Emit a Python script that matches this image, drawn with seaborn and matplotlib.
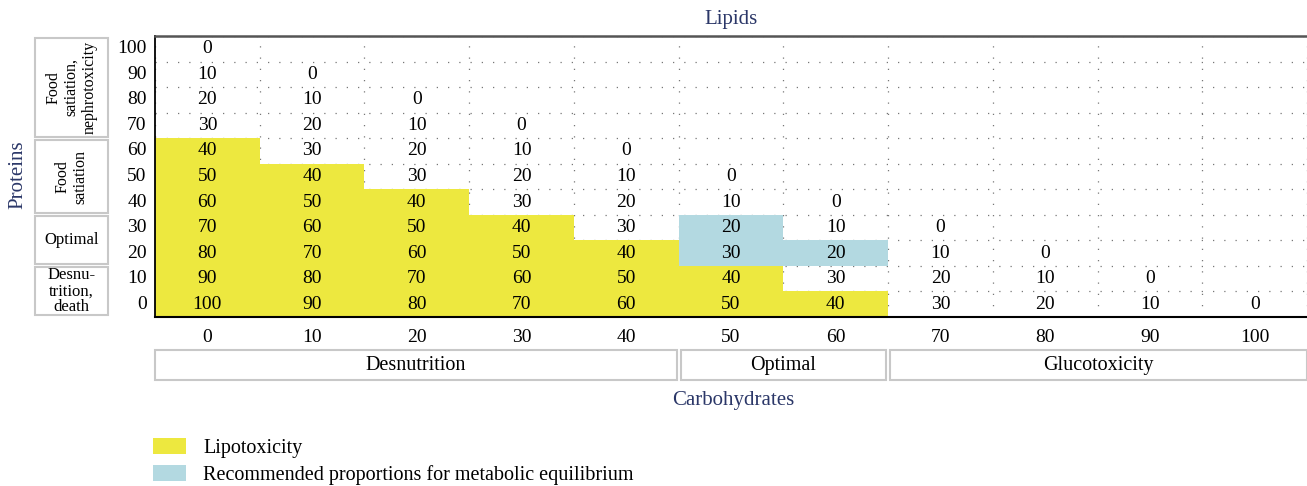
"""Protein / carbohydrate / lipid proportion grid with metabolic zones."""

import matplotlib
matplotlib.use("Agg")
import matplotlib.pyplot as plt
import numpy as np
import pandas as pd
import seaborn as sns
from matplotlib.colors import ListedColormap
from matplotlib.patches import Patch, Rectangle
from matplotlib.transforms import blended_transform_factory

CARBS = [0, 10, 20, 30, 40, 50, 60, 70, 80, 90, 100]
PROTEINS = [100, 90, 80, 70, 60, 50, 40, 30, 20, 10, 0]

# lipid share per protein row (top = 100 % protein), blank where the sum exceeds 100
LIPIDS = [
    [0],
    [10, 0],
    [20, 10, 0],
    [30, 20, 10, 0],
    [40, 30, 20, 10, 0],
    [50, 40, 30, 20, 10, 0],
    [60, 50, 40, 30, 20, 10, 0],
    [70, 60, 50, 40, 30, 20, 10, 0],
    [80, 70, 60, 50, 40, 30, 20, 10, 0],
    [90, 80, 70, 60, 50, 40, 30, 20, 10, 0],
    [100, 90, 80, 70, 60, 50, 40, 30, 20, 10, 0],
]

LIPOTOX_MIN = 40
RECOMMENDED = [(30, 50), (20, 50), (20, 60)]  # (protein, carbohydrate)

PROTEIN_ZONES = [
    ("Food\nsatiation,\nnephrotoxicity", 100, 70, True),
    ("Food\nsatiation", 60, 40, True),
    ("Optimal", 30, 20, False),
    ("Desnu-\ntrition,\ndeath", 10, 0, False),
]
CARB_ZONES = [("Desnutrition", 0, 40), ("Optimal", 50, 60), ("Glucotoxicity", 70, 100)]

LEGEND_LABELS = ["Lipotoxicity", "Recommended proportions for metabolic equilibrium"]

YELLOW = "#ede83f"
BLUE = "#b3d9e1"
NAVY = "#2b3768"
BOX_EDGE = "#c8c8c8"

W, H = 1307, 486
NUM_SIZE = 14

sns.set_theme(style="white")
plt.rcParams["font.family"] = ["Liberation Serif", "DejaVu Serif"]
plt.rcParams["text.color"] = "black"
plt.rcParams["xtick.labelcolor"] = "black"
plt.rcParams["ytick.labelcolor"] = "black"


def build_tables():
    lipids = pd.DataFrame(np.nan, index=PROTEINS, columns=CARBS)
    for protein, row in zip(PROTEINS, LIPIDS):
        for carb, value in zip(CARBS, row):
            lipids.loc[protein, carb] = value
    zones = pd.DataFrame(np.nan, index=PROTEINS, columns=CARBS)
    zones[lipids >= LIPOTOX_MIN] = 0
    for protein, carb in RECOMMENDED:
        zones.loc[protein, carb] = 1
    return lipids, zones


def main():
    lipids, zones = build_tables()

    fig = plt.figure(figsize=(W / 100, H / 100), dpi=100)
    ax = fig.add_axes([155 / W, 1 - 317 / H, 1152 / W, 281 / H])

    sns.heatmap(zones, mask=zones.isna(), cmap=ListedColormap([YELLOW, BLUE]),
                vmin=0, vmax=1, cbar=False, ax=ax)
    sns.heatmap(lipids, mask=lipids.isna(), cmap=ListedColormap([(0, 0, 0, 0)]),
                annot=True, fmt=".0f", cbar=False, ax=ax,
                annot_kws={"fontsize": NUM_SIZE, "color": "black"})

    # dotted cell grid underneath the coloured cells
    ax.set_xticks(np.arange(len(CARBS) + 1), minor=True)
    ax.set_yticks(np.arange(len(PROTEINS) + 1), minor=True)
    ax.set_axisbelow(True)
    ax.grid(which="minor", color="#777777", linewidth=0.9, linestyle=(0, (1, 8)))
    ax.grid(which="major", visible=False)
    ax.tick_params(which="both", length=0)
    ax.tick_params(axis="x", pad=9, labelsize=NUM_SIZE, rotation=0, labelcolor="black")
    ax.tick_params(axis="y", pad=6, labelsize=NUM_SIZE, rotation=0, labelcolor="black")
    ax.set_xlabel("")
    ax.set_ylabel("")

    for side in ["top", "left", "bottom"]:
        ax.spines[side].set_visible(True)
    ax.spines["right"].set_visible(False)
    ax.spines["top"].set_color("#555555")
    ax.spines["top"].set_linewidth(1.8)
    ax.spines["left"].set_color("black")
    ax.spines["left"].set_linewidth(1.3)
    ax.spines["bottom"].set_color("black")
    ax.spines["bottom"].set_linewidth(1.5)

    ax.set_title("Lipids", color=NAVY, fontsize=15, pad=9)
    fig.text(733 / W, 1 - 401 / H, "Carbohydrates", color=NAVY, fontsize=15,
             ha="center", va="center")
    fig.text(18 / W, 1 - 175 / H, "Proteins", color=NAVY, fontsize=15,
             ha="center", va="center", rotation=90)

    # protein zone boxes on the left
    row_pos = {p: i for i, p in enumerate(PROTEINS)}
    left_tr = blended_transform_factory(fig.transFigure, ax.transData)
    bx0, bw = 35 / W, 73 / W
    for label, top, bottom, rotated in PROTEIN_ZONES:
        y0 = row_pos[top] + 0.06
        y1 = row_pos[bottom] + 1 - 0.06
        ax.add_patch(Rectangle((bx0, y0), bw, y1 - y0, transform=left_tr, clip_on=False,
                               facecolor="white", edgecolor=BOX_EDGE, linewidth=1.5))
        ax.text(bx0 + bw / 2, (y0 + y1) / 2, label, transform=left_tr, ha="center",
                va="center", multialignment="center", rotation=90 if rotated else 0,
                fontsize=11.5 if rotated else 12, linespacing=1.15 if rotated else 1.0,
                color="black")

    # carbohydrate zone boxes underneath
    col_pos = {c: i for i, c in enumerate(CARBS)}
    bottom_tr = blended_transform_factory(ax.transData, fig.transFigure)
    by0, bh = 1 - 380 / H, 30 / H
    for label, first, last in CARB_ZONES:
        x0 = col_pos[first] + (0.0 if first == CARBS[0] else 0.02)
        x1 = col_pos[last] + 1 - (0.0 if last == CARBS[-1] else 0.02)
        ax.add_patch(Rectangle((x0, by0), x1 - x0, bh, transform=bottom_tr, clip_on=False,
                               facecolor="white", edgecolor=BOX_EDGE, linewidth=1.5))
        ax.text((x0 + x1) / 2, by0 + bh / 2, label, transform=bottom_tr,
                ha="center", va="center", fontsize=14.5, color="black")

    handles = [Patch(facecolor=YELLOW, edgecolor="none"), Patch(facecolor=BLUE, edgecolor="none")]
    leg = fig.legend(handles, LEGEND_LABELS, loc="upper left",
                     bbox_to_anchor=(153 / W, 1 - 438 / H), frameon=False, fontsize=14.5,
                     handlelength=1.65, handleheight=0.85, handletextpad=0.85,
                     labelspacing=0.35, borderaxespad=0, borderpad=0)
    for text in leg.get_texts():
        text.set_color("black")

    fig.savefig("out.png", dpi=100)
    plt.close(fig)


if __name__ == "__main__":
    main()
